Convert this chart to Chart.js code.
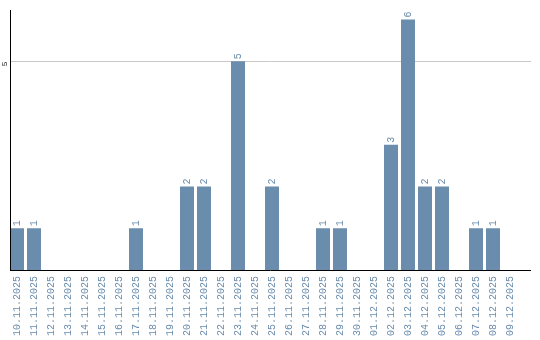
<!DOCTYPE html>
<html>
<head>
<meta charset="utf-8">
<script src="https://cdn.jsdelivr.net/npm/chart.js@4/dist/chart.umd.min.js"></script>
<style>
  html, body { margin: 0; padding: 0; background: #fff; }
  #wrap { width: 540px; height: 340px; }
</style>
</head>
<body>
<div id="wrap"><canvas id="chart" width="540" height="340"></canvas></div>
<script>
// Data
const dates = [
  '10.11.2025', '11.11.2025', '12.11.2025', '13.11.2025', '14.11.2025',
  '15.11.2025', '16.11.2025', '17.11.2025', '18.11.2025', '19.11.2025',
  '20.11.2025', '21.11.2025', '22.11.2025', '23.11.2025', '24.11.2025',
  '25.11.2025', '26.11.2025', '27.11.2025', '28.11.2025', '29.11.2025',
  '30.11.2025', '01.12.2025', '02.12.2025', '03.12.2025', '04.12.2025',
  '05.12.2025', '06.12.2025', '07.12.2025', '08.12.2025', '09.12.2025'
];
const counts = [1, 1, 0, 0, 0, 0, 0, 1, 0, 0, 2, 2, 0, 5, 0, 2, 0, 0, 1, 1, 0, 0, 3, 6, 2, 2, 0, 1, 1, 0];
const yTicks = [5];

const BAR_COLOR = '#6a8cad';
const MONO = '"Liberation Mono", "DejaVu Sans Mono", monospace';

// axis lines, grid line, y tick labels and value labels drawn by hand
const decorPlugin = {
  id: 'decor',
  beforeDatasetsDraw(chart) {
    const c = chart.ctx;
    const area = chart.chartArea;
    const y = chart.scales.y;
    c.save();
    c.strokeStyle = '#c8c8c8';
    c.lineWidth = 1;
    yTicks.forEach(v => {
      const py = Math.round(y.getPixelForValue(v)) + 0.5;
      c.beginPath();
      c.moveTo(area.left + 1.5, py);
      c.lineTo(531, py);
      c.stroke();
    });
    c.restore();
  },
  afterDatasetsDraw(chart) {
    const c = chart.ctx;
    const area = chart.chartArea;
    const y = chart.scales.y;
    c.save();
    // axes
    c.strokeStyle = '#000';
    c.lineWidth = 1;
    c.beginPath();
    c.moveTo(10.5, area.top);
    c.lineTo(10.5, area.bottom + 1);
    c.moveTo(10, area.bottom + 0.5);
    c.lineTo(531, area.bottom + 0.5);
    c.stroke();

    // y tick labels
    c.fillStyle = '#222';
    c.font = '8px ' + MONO;
    c.textAlign = 'right';
    c.textBaseline = 'middle';
    yTicks.forEach(v => {
      const py = y.getPixelForValue(v);
      c.save();
      c.translate(5, py);
      c.rotate(-Math.PI / 2);
      c.fillText(String(v), 0, 0);
      c.restore();
    });

    // value labels above bars
    const meta = chart.getDatasetMeta(0);
    c.fillStyle = BAR_COLOR;
    c.font = '10px ' + MONO;
    c.textAlign = 'left';
    c.textBaseline = 'middle';
    meta.data.forEach((bar, i) => {
      if (!counts[i]) return;
      c.save();
      c.translate(bar.x, bar.y - 2);
      c.rotate(-Math.PI / 2);
      c.fillText(String(counts[i]), 0, 0);
      c.restore();
    });
    c.restore();
  }
};

new Chart(document.getElementById('chart'), {
  type: 'bar',
  data: {
    labels: dates,
    datasets: [{
      data: counts,
      backgroundColor: BAR_COLOR,
      borderWidth: 0,
      categoryPercentage: 1,
      barPercentage: 14 / 17
    }]
  },
  options: {
    responsive: false,
    animation: false,
    layout: { padding: { top: 10, right: 21.5, left: 0, bottom: 0 } },
    plugins: {
      legend: { display: false },
      tooltip: { enabled: false }
    },
    scales: {
      x: {
        grid: { display: false, drawTicks: false },
        border: { display: false },
        ticks: {
          autoSkip: false,
          minRotation: 90,
          maxRotation: 90,
          padding: 6,
          color: BAR_COLOR,
          font: { family: MONO, size: 10 }
        },
        afterFit(scale) { scale.height = 70; }
      },
      y: {
        min: 0,
        max: 6.23,
        grid: { display: false, drawTicks: false },
        border: { display: false },
        ticks: { display: false },
        afterFit(scale) { scale.width = 8.5; }
      }
    }
  },
  plugins: [decorPlugin]
});
</script>
</body>
</html>
